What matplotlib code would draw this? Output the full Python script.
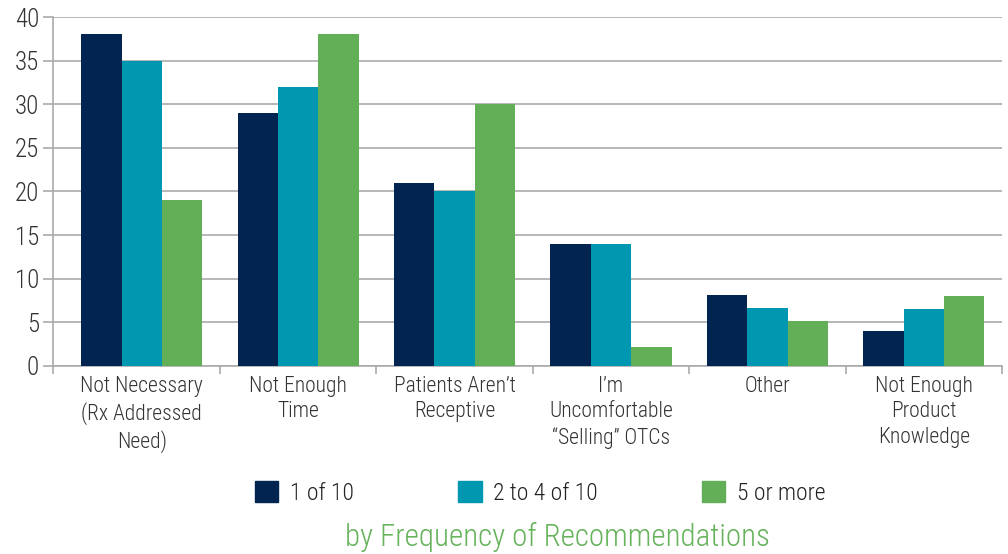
import numpy as np
import matplotlib
matplotlib.use("Agg")
import matplotlib.pyplot as plt
from matplotlib.patches import Patch

plt.rcParams['font.family'] = ['Roboto Condensed', 'DejaVu Sans']
plt.rcParams['font.weight'] = 'light'

categories = ["Not Necessary\n(Rx Addressed\nNeed)", "Not Enough\nTime",
              "Patients Aren\u2019t\nReceptive", "I\u2019m\nUncomfortable\n\u201cSelling\u201d OTCs",
              "Other", "Not Enough\nProduct\nKnowledge"]
series_names = ["1 of 10", "2 to 4 of 10", "5 or more"]
one_of_10 = [38, 29, 21, 14, 8.1, 4.0]
two_to_4 = [35, 32, 20, 14, 6.6, 6.5]
five_plus = [19, 38, 30, 2.2, 5.1, 8.0]
colors = ["#012451", "#0098B0", "#62AF57"]
subtitle = "by Frequency of Recommendations"

fig = plt.figure(figsize=(10.08, 5.54), dpi=100)
ax = fig.add_axes([0.0526, 0.3394, 0.9414, 0.6299])

x = np.arange(len(categories))
w = 0.258
for k, vals in enumerate([one_of_10, two_to_4, five_plus]):
    ax.bar(x + (k - 1) * w, vals, width=w, color=colors[k], zorder=3,
           label=series_names[k])

ax.set_xlim(-0.568, 5.5)
ax.set_ylim(0, 40)
ax.set_yticks(range(0, 41, 5))
ax.yaxis.grid(True, color="#aaaaaa", linewidth=1.2, zorder=0)

# category separators as major ticks, labels on minor ticks
ax.set_xticks(list(x[:-1] + 0.5) + [5.5, -0.568])
ax.set_xticklabels([])
ax.set_xticks(x, minor=True)
ax.set_xticklabels(categories, minor=True, fontsize=15.5, color="#333333",
                   linespacing=1.3)
ax.tick_params(axis="x", which="minor", length=0, pad=7)
ax.tick_params(axis="x", which="major", length=6, color="#aaaaaa", width=1.2)
ax.tick_params(axis="y", length=7, color="#aaaaaa", width=1.2, labelsize=18,
               labelcolor="#333333", pad=3)

for s in ["top", "right"]:
    ax.spines[s].set_visible(False)
for s in ["left", "bottom"]:
    ax.spines[s].set_color("#aaaaaa")
    ax.spines[s].set_linewidth(1.2)

handles = [Patch(color=c) for c in colors]
fig.legend(handles, series_names, loc="center", bbox_to_anchor=(0.536, 0.11),
           ncol=3, frameon=False, fontsize=17, handlelength=1.0,
           handleheight=1.0, handletextpad=0.5, columnspacing=4.4,
           labelcolor="#222222")

fig.text(0.553, 0.031, subtitle, ha="center", va="center", fontsize=22.3,
         color="#66B35C")

fig.savefig("out.png", dpi=100)
